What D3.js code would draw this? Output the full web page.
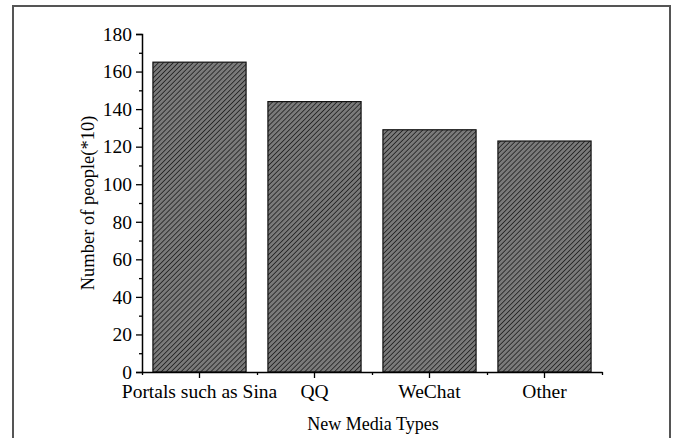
<!DOCTYPE html>
<html>
<head>
<meta charset="utf-8">
<script src="https://cdn.jsdelivr.net/npm/d3@7"></script>
<style>
  body { margin: 0; background: #fff; }
  svg { display: block; font-family: "Liberation Serif", "DejaVu Serif", serif; }
</style>
</head>
<body>
<figure id="chart" style="margin:0"></figure>
<script>
// data
var categories = ["Portals such as Sina", "QQ", "WeChat", "Other"];
var values = [165, 144, 129, 123];
var yTicks = [0, 20, 40, 60, 80, 100, 120, 140, 160, 180];

var dimensions = {
    width: 673,
    height: 438,
    margin: { top: 34, right: 71, bottom: 66, left: 142 }
};
dimensions.boundedWidth = dimensions.width - dimensions.margin.left - dimensions.margin.right;
dimensions.boundedHeight = dimensions.height - dimensions.margin.top - dimensions.margin.bottom;

var root = d3.select("figure#chart")
    .append("svg")
    .attr("width", dimensions.width)
    .attr("height", dimensions.height);

// hatch pattern for the bars
var pat = root.append("defs").append("pattern")
    .attr("id", "hatch")
    .attr("patternUnits", "userSpaceOnUse")
    .attr("width", 3.5)
    .attr("height", 3.5)
    .attr("patternTransform", "rotate(45)");
pat.append("rect").attr("width", 3.5).attr("height", 3.5).attr("fill", "#7a7a7a");
pat.append("line")
    .attr("x1", 0).attr("y1", 0).attr("x2", 0).attr("y2", 3.5)
    .attr("stroke", "#1e1e1e").attr("stroke-width", 1.6);

// outer frame (open at the bottom)
root.append("path")
    .attr("d", "M13,438 V6 H670 V438")
    .attr("fill", "none")
    .attr("stroke", "#555")
    .attr("stroke-width", 2);

var svg = root.append("g")
    .attr("transform", `translate(${dimensions.margin.left}, ${dimensions.margin.top})`);

var xScale = d3.scaleBand()
    .domain(categories)
    .range([0, dimensions.boundedWidth])
    .padding(0);

var yScale = d3.scaleLinear()
    .domain([0, 180])
    .range([dimensions.boundedHeight, 0]);

var barW = xScale.bandwidth() * 0.81;

svg.selectAll("rect.bar")
    .data(values)
    .enter()
    .append("rect")
    .attr("class", "bar")
    .attr("x", (d, i) => xScale(categories[i]) + (xScale.bandwidth() - barW) / 2)
    .attr("y", d => yScale(d))
    .attr("width", barW)
    .attr("height", d => yScale(0) - yScale(d))
    .attr("fill", "url(#hatch)")
    .attr("stroke", "#111")
    .attr("stroke-width", 1.2);

// y axis with minor ticks
var yAxis = svg.append("g")
    .call(d3.axisLeft(yScale).tickValues(yTicks).tickSize(6).tickPadding(4));
svg.append("g")
    .call(d3.axisLeft(yScale).tickValues(yTicks.slice(0, -1).map(d => d + 10)).tickSize(3).tickFormat(""))
    .select(".domain").remove();

// x axis: long ticks at centres, short ticks at band edges
var xAxis = svg.append("g")
    .attr("transform", `translate(0, ${dimensions.boundedHeight})`)
    .call(d3.axisBottom(xScale).tickSize(6).tickPadding(6).tickSizeOuter(0));
var edges = d3.scaleLinear().domain([0, 4]).range([0, dimensions.boundedWidth]);
svg.append("g")
    .attr("transform", `translate(0, ${dimensions.boundedHeight})`)
    .call(d3.axisBottom(edges).tickValues([0, 1, 2, 3, 4]).tickSize(3).tickFormat(""))
    .select(".domain").remove();

root.selectAll(".domain").attr("stroke", "#000").attr("stroke-width", 1.5);
root.selectAll(".tick line").attr("stroke", "#000").attr("stroke-width", 1.3);
root.selectAll(".tick text")
    .attr("fill", "#000")
    .style("font-family", "'Liberation Serif', serif")
    .style("font-size", "19.5px");

// axis titles
root.append("text")
    .attr("transform", "translate(94, 203) rotate(-90)")
    .attr("text-anchor", "middle")
    .style("font-size", "18.5px")
    .text("Number of people(*10)");

root.append("text")
    .attr("x", 373)
    .attr("y", 430)
    .attr("text-anchor", "middle")
    .style("font-size", "18px")
    .text("New Media Types");
</script>
</body>
</html>
